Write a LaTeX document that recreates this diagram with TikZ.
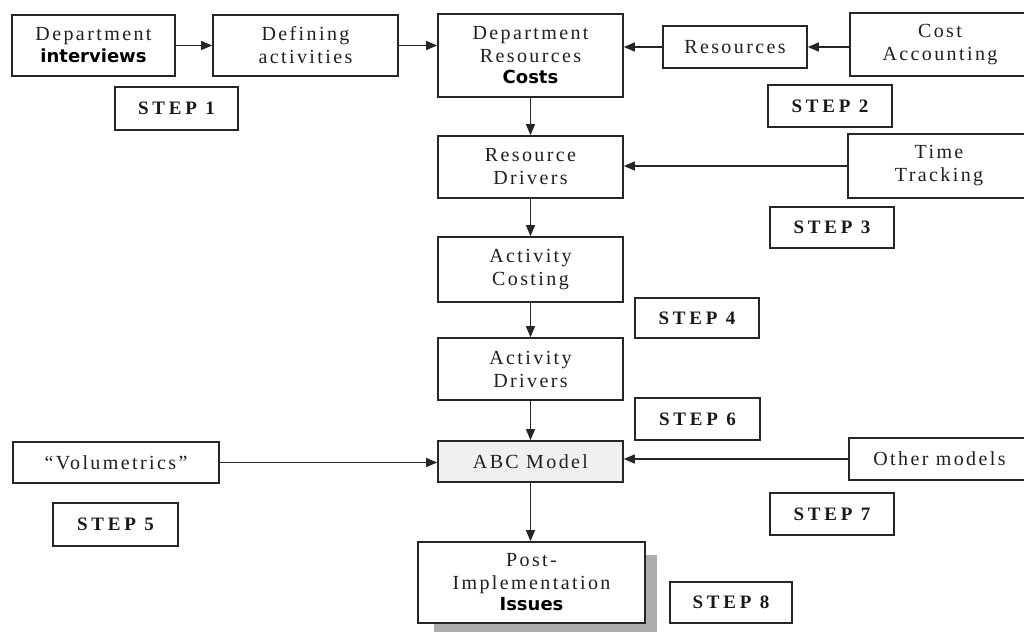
\documentclass[tikz,border=0pt]{standalone}
\usepackage{fontspec}
\setmainfont{Liberation Serif}
\newfontfamily\lsfont[LetterSpace=12]{Liberation Serif}
\newfontfamily\stepfont[LetterSpace=20]{Liberation Serif}
\newfontfamily\sansbold{DejaVu Sans}
\usetikzlibrary{arrows.meta}
\begin{document}
\begin{tikzpicture}[x=1pt,y=-1pt,
  box/.style={draw=black!85, line width=1.6pt, fill=white, inner sep=0pt, align=center,
    text=black!88, font=\fontsize{20}{23}\selectfont\lsfont},
  stepbox/.style={draw=black!85, line width=1.5pt, fill=white, inner sep=0pt,
    text=black!90, font=\fontsize{19}{20}\selectfont\stepfont\bfseries},
  arr/.style={draw=black!85, line width=1.3pt, -{Triangle[length=11pt,width=9pt]}},
  hl/.style={font=\fontsize{18}{20}\selectfont\sansbold\bfseries, text=black}
]
\useasboundingbox (0,0) rectangle (1024,631);
\fill[white] (0,0) rectangle (1024,631);

% shadow of post-implementation box
\fill[black!32] (434,555) rectangle (657,635);

\node[box, minimum width=163pt, minimum height=61pt] (iv) at (93.5,45.5)
  {Department\\[-1pt]{\fontsize{18}{20}\selectfont\sansbold\bfseries\color{black}interviews}};
\node[box, minimum width=185pt, minimum height=61pt] (def) at (305.5,45.5) {Defining\\activities};
\node[box, minimum width=185pt, minimum height=83pt] (dept) at (530.5,55.5)
  {Department\\Resources\\[-2pt]{\fontsize{18}{20}\selectfont\sansbold\bfseries\color{black}Costs}};
\node[box, minimum width=144pt, minimum height=42pt] (res) at (735,47) {Resources};
\node[box, minimum width=180pt, minimum height=63pt] (cost) at (940,44.5) {Cost\\Accounting};
\node[stepbox, minimum width=123pt, minimum height=43pt] (s1) at (176.5,108.5) {STEP 1};
\node[stepbox, minimum width=124pt, minimum height=42pt] (s2) at (830,106) {STEP 2};

\node[box, minimum width=185pt, minimum height=62pt] (rd) at (530.5,167) {Resource\\Drivers};
\node[box, minimum width=182pt, minimum height=64pt] (tt) at (939,166) {Time\\Tracking};
\node[stepbox, minimum width=124pt, minimum height=41pt] (s3) at (832,227.5) {STEP 3};

\node[box, minimum width=185pt, minimum height=65pt] (ac) at (530.5,269.5) {Activity\\Costing};
\node[stepbox, minimum width=124pt, minimum height=40pt] (s4) at (697,318) {STEP 4};

\node[box, minimum width=185pt, minimum height=62pt] (ad) at (530.5,369) {Activity\\Drivers};
\node[stepbox, minimum width=125pt, minimum height=42pt] (s6) at (697.5,419) {STEP 6};

\node[box, fill=black!6, minimum width=185pt, minimum height=41pt] (abc) at (530.5,461.5) {ABC Model};
\node[box, minimum width=206pt, minimum height=41pt] (vol) at (116,462.5) {“Volumetrics”};
\node[stepbox, minimum width=125pt, minimum height=43pt] (s5) at (115.5,524.5) {STEP 5};
\node[box, minimum width=181pt, minimum height=42pt] (other) at (939.5,459) {Other models};
\node[stepbox, minimum width=124pt, minimum height=42pt] (s7) at (832,514) {STEP 7};

\node[box, minimum width=227pt, minimum height=81pt] (post) at (531.5,582.5)
  {Post-\\Implementation\\[-2pt]{\fontsize{18}{20}\selectfont\sansbold\bfseries\color{black}Issues}};
\node[stepbox, minimum width=122pt, minimum height=41pt] (s8) at (731,602.5) {STEP 8};

% connectors
\draw[arr] (iv.east) -- (def.west);
\draw[arr] (def.east) -- (def.east -| dept.west);
\draw[arr] (res.west) -- (res.west -| dept.east);
\draw[arr] (res.east -| cost.west) -- (res.east);
\draw[arr] (dept.south) -- (rd.north);
\draw[arr] (tt.west) -- (tt.west -| rd.east);
\draw[arr] (rd.south) -- (ac.north);
\draw[arr] (ac.south) -- (ad.north);
\draw[arr] (ad.south) -- (abc.north);
\draw[arr] (vol.east) -- (vol.east -| abc.west);
\draw[arr] (other.west) -- (other.west -| abc.east);
\draw[arr] (abc.south) -- (abc.south |- post.north);
\end{tikzpicture}
\end{document}
